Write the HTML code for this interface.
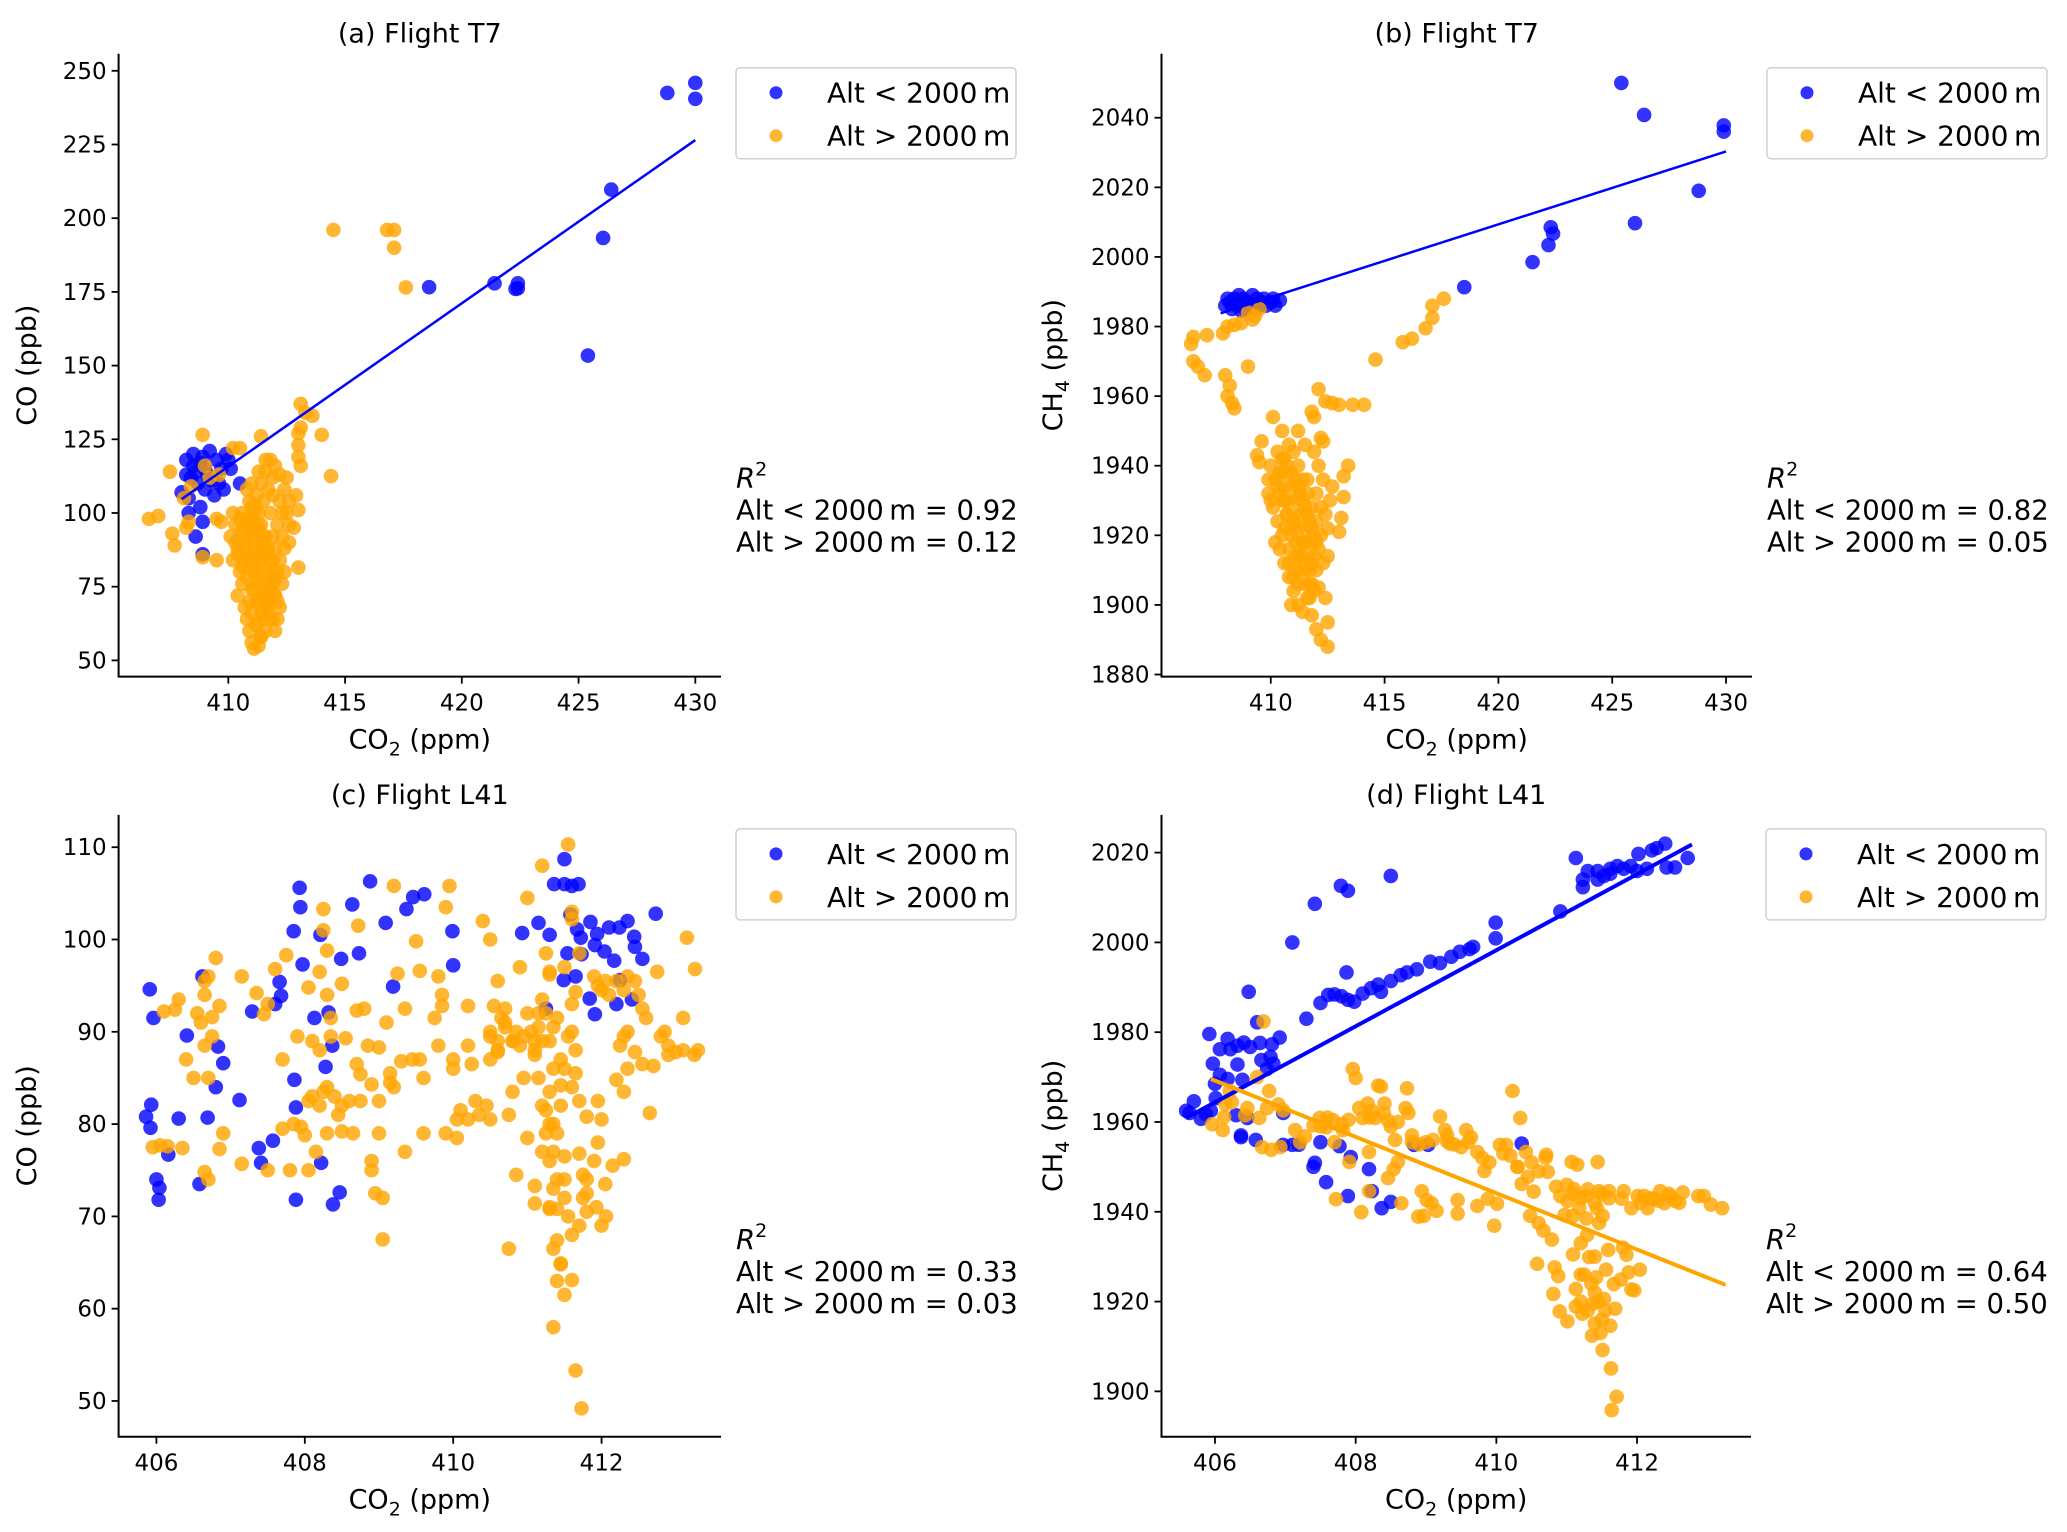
<!DOCTYPE html>
<html><head><meta charset="utf-8"><style>
html,body{margin:0;padding:0;background:#fff}
svg{display:block}
text{font-family:"DejaVu Sans","Liberation Sans",sans-serif;fill:#000}
</style></head><body>
<svg id="fig" width="2067" height="1532" viewBox="0 0 2067 1532" xmlns="http://www.w3.org/2000/svg"></svg>
<script>
// ---- data: panel (a) CO vs CO2, Flight T7
const aBlueX=[430,430,428.8,426.4,426.05,425.4,422.4,422.4,421.4,418.6,422.3,408.2,408.5,408.8,409,409.2,409.5,408.4,408.7,409,409.4,409.6,409.8,410,410.1,410.5,408.3,408.8,408.9,408.6,408.9,408,408.3,409.1,408.6,409.9,408.5,408.9,409.3,408.2,409.7];
const aBlueY=[245.9,240.5,242.5,209.7,193.3,153.4,177.9,176.2,177.9,176.6,176,118,120,117,115,121,118,112,110,108,106,110,108,118,115,110,100,102,97,92,86,107,105,113,114,120,116,119,111,113,115];
const aOrX=[414.5,416.8,417.1,417.1,417.6,413.1,413.3,413.6,413.1,414,413,414.4,413.1,413,413,408.9,411.4,410.2,410.5,407.5,406.6,407,407.6,407.7,408.2,408.3,409.5,409.7,408.1,408.4,409,409.2,409.6,408.9,409.5,413,412.9,412.6,412.8,413,
410.2,410.3,410.1,410.4,410.2,410.5,410.6,410.4,410.7,410.8,410.9,411,411.1,411.3,411.4,411.2,411,410.9,411.1,411.2,411,410.8,410.7,410.6,410.8,411,411.2,411.4,411.6,411.8,412,411.9,411.7,411.5,411.3,411.4,411.6,411.5,411.3,411.4,411.6,411.5,411.7,411.8,411.6,412,412.1,412.2,412,411.9,412.1,412.2,412,411.9,412.1,412.3,412.2,412.4,412.5,411.8,412.3,412.4,412.3,412.4,410.5,410.9,411.1,411.2,411.8,411.9,410.7,411.3,411.5,410.3,411.1,412.6,412.5,412.6,411,411.9,412.2,411.6,410.8,411.3,
410.4,410.6,410.8,411,411.2,411.4,411.6,411.8,412,410.5,410.7,410.9,411.1,411.3,411.5,411.7,411.9,412.1,410.6,410.8,411,411.2,411.4,411.6,411.8,412,410.9,411.1,411.3,411.5,411.7,411.9,411.2,411.4,411.6,411.0,411.3,411.5,411.7,411.2];
const aOrY=[196,196,196,190,176.5,137,134,133,129,126.5,127,112.5,116,119,123,126.5,126,122,122,114,98,99,93,89,95,97,98,97,105,109,116,112,113,85,84,81.5,106,104,95,101,
100,96,92,88,84,80,76,72,68,64,60,56,54,55,58,62,66,70,74,78,82,86,90,94,98,102,106,110,114,118,116,112,108,104,100,96,92,88,84,80,76,72,68,64,60,60,64,68,72,76,80,84,88,92,96,100,104,108,112,100,92,88,76,80,98,94,90,86,84,80,84,70,66,90,95,96,100,90,110,106,113,118,108,114,
86,82,78,74,70,66,70,74,78,92,88,84,80,76,72,68,64,70,100,96,92,88,84,80,76,72,104,100,96,92,88,84,62,58,64,98,94,90,86,102];
const aFitX=[408,430], aFitY=[104.7,226.5];
// ---- panel (b) CH4 vs CO2, Flight T7
const bBlueX=[425.4,426.4,429.9,429.9,428.8,426,422.3,422.4,422.2,421.5,418.5,408,408.2,408.4,408.6,408.8,409,409.2,409.4,409.6,409.8,410,410.2,410.4,408.3,408.5,408.7,408.9,409.1,409.3,408.1,409.5,409.7,410.1];
const bBlueY=[2050,2040.8,2037.8,2036,2019,2009.7,2008.5,2006.7,2003.4,1998.5,1991.3,1986,1987,1988,1989,1988,1987,1989,1988,1987,1986,1987,1986,1987.5,1985,1986,1984.5,1985,1986,1985,1988,1986,1988,1988];
const bOrX=[406.5,406.6,407.2,407.9,408.1,408.4,408.7,409,409.3,409.5,409.2,406.6,406.8,407.1,408,408.2,408.1,408.3,408.4,409,414.6,415.8,416.2,416.8,417.1,417.1,417.6,412.1,412.4,412.7,413,413.6,414.1,411.8,411.9,410.1,410.5,411.2,412.3,409.6,409.4,409.5,413.4,413.2,413.2,413.1,413,412.5,412.5,412.5,412.2,412,411.8,
410,410.2,410.4,410.1,410.3,410.5,410.4,410.6,410.8,411,411.2,411.4,411.6,411.8,412,411.9,411.7,411.5,411.3,411.1,410.9,410.7,410.6,410.8,411,411.2,411.4,411.6,411.8,412,412.2,412.4,412.6,412.7,412.3,412.1,411.9,412.2,411.5,410.3,409.9,410,410.2,410.7,410.9,411.1,411.3,411.5,411.7,412.1,412.3,412.4,410.6,411,411.4,411.8,410.8,411.2,411.6,412,410.4,409.9,
410.3,410.5,410.7,410.9,411.1,411.3,411.5,411.7,411.9,412.1,410.4,410.6,410.8,411,411.2,411.4,411.6,411.8,412,410.5,410.7,410.9,411.1,411.3,411.5,411.7,411.9,410.6,410.8,411,411.2,411.4,411.6,411.1,411.3,411.5,410.9,411.7,412.2,412.5];
const bOrY=[1975,1977,1977.5,1978,1980,1980.5,1981,1984,1983,1985,1982,1970,1968.5,1966,1966,1963,1960,1958,1956.5,1968.5,1970.5,1975.5,1976.5,1979.5,1982.5,1986,1988,1962,1958.5,1958,1957.5,1957.5,1957.5,1955.5,1954,1954,1950,1950,1947,1947,1943,1941,1940,1937,1931,1925,1921,1914,1895,1888,1890,1893,1897,
1940,1936,1932,1928,1924,1920,1916,1912,1908,1904,1900,1898,1902,1906,1910,1914,1918,1922,1926,1930,1934,1938,1942,1946,1944,1940,1936,1932,1928,1924,1920,1926,1930,1934,1936,1940,1944,1948,1946,1944,1936,1930,1918,1926,1920,1914,1910,1906,1910,1905,1912,1902,1930,1924,1918,1922,1916,1934,1926,1932,1938,1932,
1934,1930,1926,1922,1918,1914,1910,1906,1904,1916,1938,1934,1930,1926,1922,1918,1914,1912,1918,1942,1940,1938,1936,1932,1928,1924,1920,1922,1912,1908,1906,1930,1936,1910,1914,1918,1900,1902,1928,1922];
const bFitX=[407.8,430], bFitY=[1983.8,2030.3];
// ---- panel (c) CO vs CO2, Flight L41
const cBlueX=[405.91,405.96,405.86,405.93,405.92,406,406.04,406.03,406.16,406.41,406.3,406.58,406.69,406.62,406.8,406.83,406.9,407.12,407.29,407.38,407.41,407.57,407.6,407.66,407.68,407.85,407.93,407.94,407.88,407.88,407.86,407.97,408.13,408.21,408.28,408.22,408.32,408.37,408.38,408.47,408.49,408.64,408.73,408.88,409.09,409.19,409.37,409.46,409.61,409.99,410,410.93,411.15,411.3,411.25,411.36,411.5,411.5,411.6,411.69,411.58,411.67,411.72,411.54,411.73,411.49,411.65,411.85,411.94,411.91,412.04,412.17,412.1,412.24,412.35,412.44,412.45,412.55,412.41,412.2,411.91,411.84,412.73,412.25];
const cBlueY=[94.6,91.5,80.8,82.1,79.6,74,73.1,71.8,76.7,89.6,80.6,73.5,80.7,96,84,88.4,86.6,82.6,92.2,77.4,75.8,78.2,93,95.4,93.9,100.9,105.6,103.5,81.8,71.8,84.8,97.3,91.5,100.5,86.2,75.8,92.1,88.5,71.3,72.6,97.9,103.8,98.5,106.3,101.8,94.9,103.3,104.6,104.9,100.9,97.2,100.7,101.8,100.5,92.5,106,106,108.7,105.8,106,102.7,101.1,100.2,98.5,98.4,95.6,96,101.9,100.6,99.4,98.7,97.7,101.3,101.3,102,100.3,99.2,97.9,93.5,93,91.9,93.6,102.8,95.6];
const cOrX=[405.95,406.05,406.15,406.35,406.1,406.25,406.3,406.55,406.6,406.75,406.85,406.65,406.65,406.7,406.8,406.4,406.5,406.7,406.75,406.65,406.9,406.85,406.65,406.7,407.15,407.5,407.8,408.05,407.15,407.35,407.5,407.45,407.6,407.75,407.7,407.7,407.85,407.95,408,408.05,407.9,408.15,408.05,408.1,408.2,408.1,408.2,408.25,408.3,408.3,408.2,408.25,408.25,408.3,408.3,408.35,408.35,408.4,408.45,408.5,408.5,408.5,408.55,408.6,408.65,408.7,408.7,408.72,408.75,408.75,408.8,408.85,408.9,408.9,408.9,408.95,409,409,409,409.05,409.05,409.1,409.15,409.15,409.2,409.2,409.25,409.3,409.35,409.35,409.45,409.5,409.55,409.55,409.6,409.6,409.75,409.8,409.8,409.85,409.85,409.9,409.95,409.9,410,410,410.05,410.05,410.1,410.2,410.2,410.2,410.25,410.3,410.35,410.4,410.45,410.5,410.5,410.5,410.5,410.55,410.6,410.6,410.65,410.7,410.75,410.8,410.8,410.85,410.9,410.95,410.95,410.75,411,411,411.1,411.1,411.15,411.2,411.25,411.1,411.3,411.3,411.35,411.35,411.35,411.45,411.4,411.4,411.5,411.55,411.6,411.5,411.6,411.7,411.2,411.55,411.6,411.6,411.65,411.7,411.8,411.7,411.75,411.8,411.8,411.65,411.73,411.35,411.4,411.5,411.45,412,411.93,412.05,412.06,411.3,411.35,411.45,411.6,411.95,412,411.95,411.35,411.5,411.7,411.6,411.75,411.8,411.9,412.15,412.3,412.2,412.35,412.25,412.3,412.35,412.45,412.55,412.2,412.3,412.35,412.45,412.5,412.55,412.6,412.65,412.7,412.8,412.85,412.9,412.9,413,413.1,413.25,413.3,413.1,413.26,413.15,412.75,412.3,411.3,411.25,410.9,411.4,411.65,411.25,411.3,
411.1,411.15,411.2,411.25,411.3,411.35,411.4,411.45,411.5,411.15,411.2,411.3,411.4,411.5,411.55,411.2,411.3,411.45,411.6,411.65,410.5,410.6,410.7,410.8,410.6,410.7,410.85,411,411.05,411.1,411.95,412.05,412.1,411.9,412.0];
const cOrY=[77.5,77.7,77.6,77.4,92.2,92.4,93.5,92,91,91.6,92.8,94,95.5,96,98,87,85,85,89.5,88.5,79,77.3,74.8,74,75.7,75,75,75,96,94.2,93,91.9,96.8,98.3,87,79.5,80,79.7,78.8,94.8,89.5,77,82.5,83,82,89,88,83.5,84,79,96.5,101,103.3,98.8,94,91.5,89.5,83,81,82,79.2,95.2,89.3,82.5,79,86.5,92.3,101.5,85.4,82.5,92.5,88.5,84.3,76,75,72.5,79,88.3,82.5,72,67.5,91,85.5,84.5,84,105.8,96.3,86.8,92.5,77,87,99.8,96.6,87,85,79,91.5,88.5,96,94,92.8,103.5,105.8,79,87,86,80.5,78.5,81.5,80.5,92.8,88.5,86.5,82.5,81,102,82,100,89.5,87,80.5,92.8,95.5,87.8,91.5,92.5,81,89,83.5,74.5,88.5,89.5,85,66.5,104.5,78.5,87.5,73.3,90.5,93.5,92,71.4,89,96.5,90.5,86,80,84.2,70.8,67.4,76.5,89.5,84,97,93,98.5,108,110.3,103,102.2,94.3,82.5,80.8,76.8,74.5,72.5,70.5,53.3,49.2,58,63,61.5,64.9,69,71,73.5,70,70.8,66.5,64.8,63.1,78,80.5,82.5,77,74,69,68,72,74,76,75.5,83.5,84.8,86,88.5,89.5,90,87.8,86.5,95.5,94.5,96,95.5,94,92.5,91.5,81.2,86.3,89.5,90,88.5,87.5,87.8,88,87.5,88,91.5,96.8,100.2,96.5,76.2,96.2,98.5,97,91.5,85.5,81.5,83.5,
88,85,82,79,76,73,79,82,86,92,89,80,74,72,70,77,71,87,90,88,90,89,90.5,89,88,91,90,92,90,89,95,95.5,94,96,94.5];
// ---- panel (d) CH4 vs CO2, Flight L41
const dBlueX=[405.59,405.64,405.7,405.8,405.87,405.94,405.92,405.97,406.01,406.0,406.07,406.07,406.18,406.22,406.18,406.32,406.32,406.41,406.39,406.5,406.48,406.6,406.64,406.66,406.74,406.79,406.81,406.92,406.83,406.3,406.46,406.37,406.97,407.1,407.42,407.79,407.89,408.5,407.3,407.5,407.61,407.7,407.8,407.87,407.89,407.98,408.1,408.22,408.32,408.36,408.5,408.64,408.73,408.87,409.06,409.2,409.36,409.48,409.62,409.67,409.99,409.99,410.91,411.13,411.23,411.23,411.3,411.44,411.53,411.62,411.72,411.81,411.91,412,412.02,412.14,412.21,412.28,412.4,412.42,412.54,412.72,411.44,411.62,406.97,407.1,407.19,407.4,407.42,407.5,407.58,407.77,407.89,407.93,408.19,408.23,408.37,408.5,408.83,409.03,410.36,406.58,406.37];
const dBlueY=[1962.5,1962,1964.6,1960.7,1961.8,1962.5,1979.6,1973,1965.3,1968.5,1970.5,1976.2,1978.5,1976.2,1969.6,1972.8,1977,1977.7,1969.4,1976.7,1989,1982.2,1977.6,1973.8,1971.8,1974.5,1977.3,1978.8,1973,1961.5,1960.9,1956.6,1962,2000,2008.6,2012.6,2011.5,2014.8,1983,1986.5,1988.3,1988.4,1988,1993.3,1987.2,1986.8,1988.6,1989.8,1990.6,1989,1991.4,1992.7,1993.3,1994,1995.7,1995.4,1996.8,1997.9,1998.5,1999,2004.4,2000.9,2006.9,2018.8,2014,2012.3,2015.9,2015.9,2014.8,2016.4,2017,2016.4,2017,2015.9,2019.7,2016.4,2020.5,2021,2022,2016.7,2016.7,2018.8,2014,2015.3,1954.9,1954.9,1954.9,1950,1950.9,1955.5,1946.6,1954.6,1943.5,1952.2,1949.5,1944.6,1940.8,1942.2,1954.9,1954.9,1955.2,1956,1957];
const dOrX=[405.96,406.11,406.13,406.15,406.24,406.21,406.43,406.46,406.6,406.69,406.63,406.74,406.77,406.67,406.8,406.93,406.9,406.97,407.14,407.21,407.28,407.4,407.49,407.58,407.68,407.7,407.72,407.82,407.91,407.96,408,408.05,408.1,408.08,408.19,408.19,408.17,408.23,408.28,408.32,408.36,408.41,408.46,408.46,408.54,408.6,408.56,408.65,408.71,408.73,408.75,408.8,408.89,408.97,408.94,409.01,409.08,409.15,409.2,409.27,409.3,409.34,409.45,409.45,409.5,409.57,409.64,409.73,409.73,409.83,409.88,409.97,410.01,410.05,410.14,410.23,410.34,410.3,410.36,410.42,410.45,410.48,410.53,410.58,410.6,410.67,410.71,410.73,410.79,410.81,410.83,410.85,410.88,410.9,410.91,410.97,411.01,411.07,411.09,411.1,411.13,411.13,411.18,411.2,411.22,411.28,411.29,411.32,411.36,411.37,411.4,411.42,411.44,411.46,411.48,411.51,411.53,411.56,411.59,411.62,411.63,411.64,411.67,411.69,411.71,411.77,411.8,411.85,411.88,411.92,411.96,412.04,411.81,411.78,411.92,412.01,412.1,412.15,412.23,412.33,412.39,412.47,412.54,412.65,412.87,412.95,413.05,413.21,411.6,411.43,411.51,411.01,411.09,411.28,411.15,411.46,
407.5,407.6,407.8,407.9,408.2,408.4,408.5,408.6,408.8,408.9,409.0,409.1,409.3,409.4,409.6,409.8,409.9,410.1,410.2,410.3,410.5,410.6,410.7,411.0,411.1,411.2,411.3,411.4,411.5,411.6,411.2,411.3,411.4,411.5,411.25,411.35,411.45,411.55,411.2,411.4,412.05,412.2,412.3,412.45,412.6];
const dOrY=[1959.5,1958.2,1961.1,1964,1964.4,1966.9,1961.5,1963.1,1970,1982.4,1960.9,1963.1,1966.9,1954.4,1953.8,1954.4,1963.9,1962.6,1958.2,1955.5,1956.8,1959.3,1960.9,1958.8,1960.4,1955.5,1942.8,1958.2,1951.1,1971.8,1969.8,1963.1,1960.9,1939.9,1944.6,1953.3,1964.1,1962.5,1960.9,1968.1,1967.9,1964.1,1960.3,1947.5,1949.5,1951.1,1956,1941.9,1963.1,1967.5,1962,1955.5,1938.9,1939.1,1944.6,1942.6,1941.9,1940.2,1961.2,1958.2,1955.7,1955.2,1942.6,1939.6,1954.4,1958.2,1956.6,1953.3,1941.3,1949.1,1942.9,1936.9,1941.8,1954.9,1954.9,1966.9,1960.9,1950,1946.2,1953.3,1947.8,1939.1,1944.5,1928.4,1937.5,1935.8,1952.7,1948.9,1933.8,1921.7,1927.6,1945.6,1925.7,1917.8,1943.5,1939.3,1915.6,1951.1,1930.5,1945.1,1922.8,1918.9,1940.8,1926,1917.3,1943.5,1934.8,1929.9,1912.4,1919.5,1915.1,1925.4,1951.1,1944.6,1913,1909.2,1920.6,1927.1,1931.5,1914.6,1905.1,1895.8,1923.9,1918.4,1898.8,1924.9,1932,1930.4,1926.5,1922.7,1922.5,1927.1,1944.6,1942.9,1940.8,1943.5,1943.5,1940.8,1942.9,1944.6,1941.9,1943.5,1942.4,1944.3,1943.5,1943.5,1941.6,1940.8,1944.6,1940.8,1939.1,1942.4,1939.1,1938.5,1950.5,1937.5,
1959,1961,1959.5,1960.5,1961,1962,1959,1960,1957,1955,1955.5,1956,1957,1955,1955.5,1952,1951,1953,1952.5,1950,1951,1949,1952,1946,1944,1943,1945,1942,1944,1943,1920,1918,1922,1916,1926,1924,1920,1918,1933,1930,1942,1943,1942.5,1944,1942];
const dFitBlueX=[405.59,412.78], dFitBlueY=[1960.9,2021.8];
const dFitOrX=[405.94,413.26], dFitOrY=[1969.6,1923.7];
const xTicksT7=[410,415,420,425,430];
const xTicksL41=[406,408,410,412];
const aYTicks=[50,75,100,125,150,175,200,225,250];
const bYTicks=[1880,1900,1920,1940,1960,1980,2000,2020,2040];
const cYTicks=[50,60,70,80,90,100,110];
const dYTicks=[1900,1920,1940,1960,1980,2000,2020];
const r2Labels={a:["0.92","0.12"],b:["0.82","0.05"],c:["0.33","0.03"],d:["0.64","0.50"]};

const NS="http://www.w3.org/2000/svg";
const svg=document.getElementById('fig');
function mk(tag,attrs,parent){const e=document.createElementNS(NS,tag);for(const k in attrs)e.setAttribute(k,attrs[k]);(parent||svg).appendChild(e);return e;}

function panel(id,box,xd,yd,xt,yt,title,ylabelHTML,blueX,blueY,orX,orY,fits,r2){
  const g=mk('g',{});
  
  
  const sx=v=>box.L+(v-xd[0])/(xd[1]-xd[0])*(box.R-box.L);
  const sy=v=>box.B-(v-yd[0])/(yd[1]-yd[0])*(box.B-box.T);
  const pts=mk('g',{},g);
  
  
  for(let i=0;i<blueX.length;i++){
    const c=mk('circle',{cx:sx(blueX[i]),cy:sy(blueY[i]),r:7.3,fill:'#0000ff','fill-opacity':0.8},pts);
    
    
  }
  for(let i=0;i<orX.length;i++){
    const c=mk('circle',{cx:sx(orX[i]),cy:sy(orY[i]),r:7.3,fill:'#ffa500','fill-opacity':0.8},pts);
    
    
  }
  fits.forEach(f=>{
    const l=mk('line',{x1:sx(f.x[0]),y1:sy(f.y[0]),x2:sx(f.x[1]),y2:sy(f.y[1]),stroke:f.c,'stroke-width':f.w},g);
    
    
  });
  const sp=mk('path',{d:`M${box.L},${box.T}V${box.B}H${box.R}`,fill:'none',stroke:'#000','stroke-width':2},g);
  
  
  xt.forEach(v=>{
    const x=sx(v);
    mk('line',{x1:x,y1:box.B,x2:x,y2:box.B+7,stroke:'#000','stroke-width':1.8},g);
    const t=mk('text',{x:x,y:box.B+34,'text-anchor':'middle','font-size':23},g);
    t.textContent=v;
    
    
  });
  yt.forEach(v=>{
    const y=sy(v);
    mk('line',{x1:box.L-7,y1:y,x2:box.L,y2:y,stroke:'#000','stroke-width':1.8},g);
    const t=mk('text',{x:box.L-12,y:y+8,'text-anchor':'end','font-size':23},g);
    t.textContent=v;
    
    
  });
  const cx=(box.L+box.R)/2;
  const tt=mk('text',{x:cx,y:box.T-11,'text-anchor':'middle','font-size':27},g);
  tt.textContent=title;
  
  
  const xl=mk('text',{x:cx,y:box.B+72,'text-anchor':'middle','font-size':27},g);
  xl.innerHTML='CO<tspan font-size="19" dy="7">2</tspan><tspan dy="-7"> (ppm)</tspan>';
  
  
  const yc=(box.T+box.B)/2;
  const yx=box.yl;
  const yl=mk('text',{x:yx,y:yc,'text-anchor':'middle','font-size':27,transform:`rotate(-90 ${yx} ${yc})`},g);
  yl.innerHTML=ylabelHTML;
  
  
  const lx=box.R+15, ly=box.T+14;
  const lg=mk('g',{},g);
  
  
  mk('rect',{x:lx,y:ly,width:280,height:91,rx:4,fill:'#fff',stroke:'#d0d0d0','stroke-width':1.5},lg);
  [['#0000ff','Alt < 2000\u2009m',25,'legend-entry-below'],['#ffa500','Alt > 2000\u2009m',68,'legend-entry-above']].forEach(e=>{
    const m=mk('circle',{cx:lx+40,cy:ly+e[2],r:6.5,fill:e[0],'fill-opacity':0.8},lg);
    
    
    const t=mk('text',{x:lx+91,y:ly+e[2]+10,'font-size':28},lg);
    t.textContent=e[1];
    
    
  });
  const rg=mk('text',{x:lx,y:box.T+434,'font-size':27.5},g);
  rg.innerHTML='<tspan font-style="italic">R</tspan><tspan font-size="19" dy="-12">2</tspan>';
  
  
  const r1=mk('text',{x:lx,y:box.T+466,'font-size':27.5},g);
  r1.textContent='Alt < 2000\u2009m = '+r2[0];
  
  
  const r3=mk('text',{x:lx,y:box.T+498,'font-size':27.5},g);
  r3.textContent='Alt > 2000\u2009m = '+r2[1];
  
  
}
const COlab='CO (ppb)';
const CH4lab='CH<tspan font-size="19" dy="7">4</tspan><tspan dy="-7"> (ppb)</tspan>';
panel('a',{L:118.6,R:721,T:53.7,B:676.6,yl:36},[405.3,431.1],[44.5,255.8],xTicksT7,aYTicks,'(a) Flight T7',COlab,aBlueX,aBlueY,aOrX,aOrY,[{x:aFitX,y:aFitY,c:'#0000ff',w:2.5,name:'fit-line-below'}],r2Labels.a);
panel('b',{L:1161.5,R:1752,T:53.7,B:676.6,yl:1062},[405.2,431.14],[1879.4,2058.4],xTicksT7,bYTicks,'(b) Flight T7',CH4lab,bBlueX,bBlueY,bOrX,bOrY,[{x:bFitX,y:bFitY,c:'#0000ff',w:2.5,name:'fit-line-below'}],r2Labels.b);
panel('c',{L:118.6,R:721,T:814.9,B:1436.7,yl:36},[405.49,413.61],[46.13,113.5],xTicksL41,cYTicks,'(c) Flight L41',COlab,cBlueX,cBlueY,cOrX,cOrY,[],r2Labels.c);
panel('d',{L:1161.5,R:1751,T:814.9,B:1436.7,yl:1062},[405.24,413.62],[1889.9,2028.4],xTicksL41,dYTicks,'(d) Flight L41',CH4lab,dBlueX,dBlueY,dOrX,dOrY,[{x:dFitBlueX,y:dFitBlueY,c:'#0000ff',w:4,name:'fit-line-below'},{x:dFitOrX,y:dFitOrY,c:'#ffa500',w:4,name:'fit-line-above'}],r2Labels.d);
</script>
</body></html>
